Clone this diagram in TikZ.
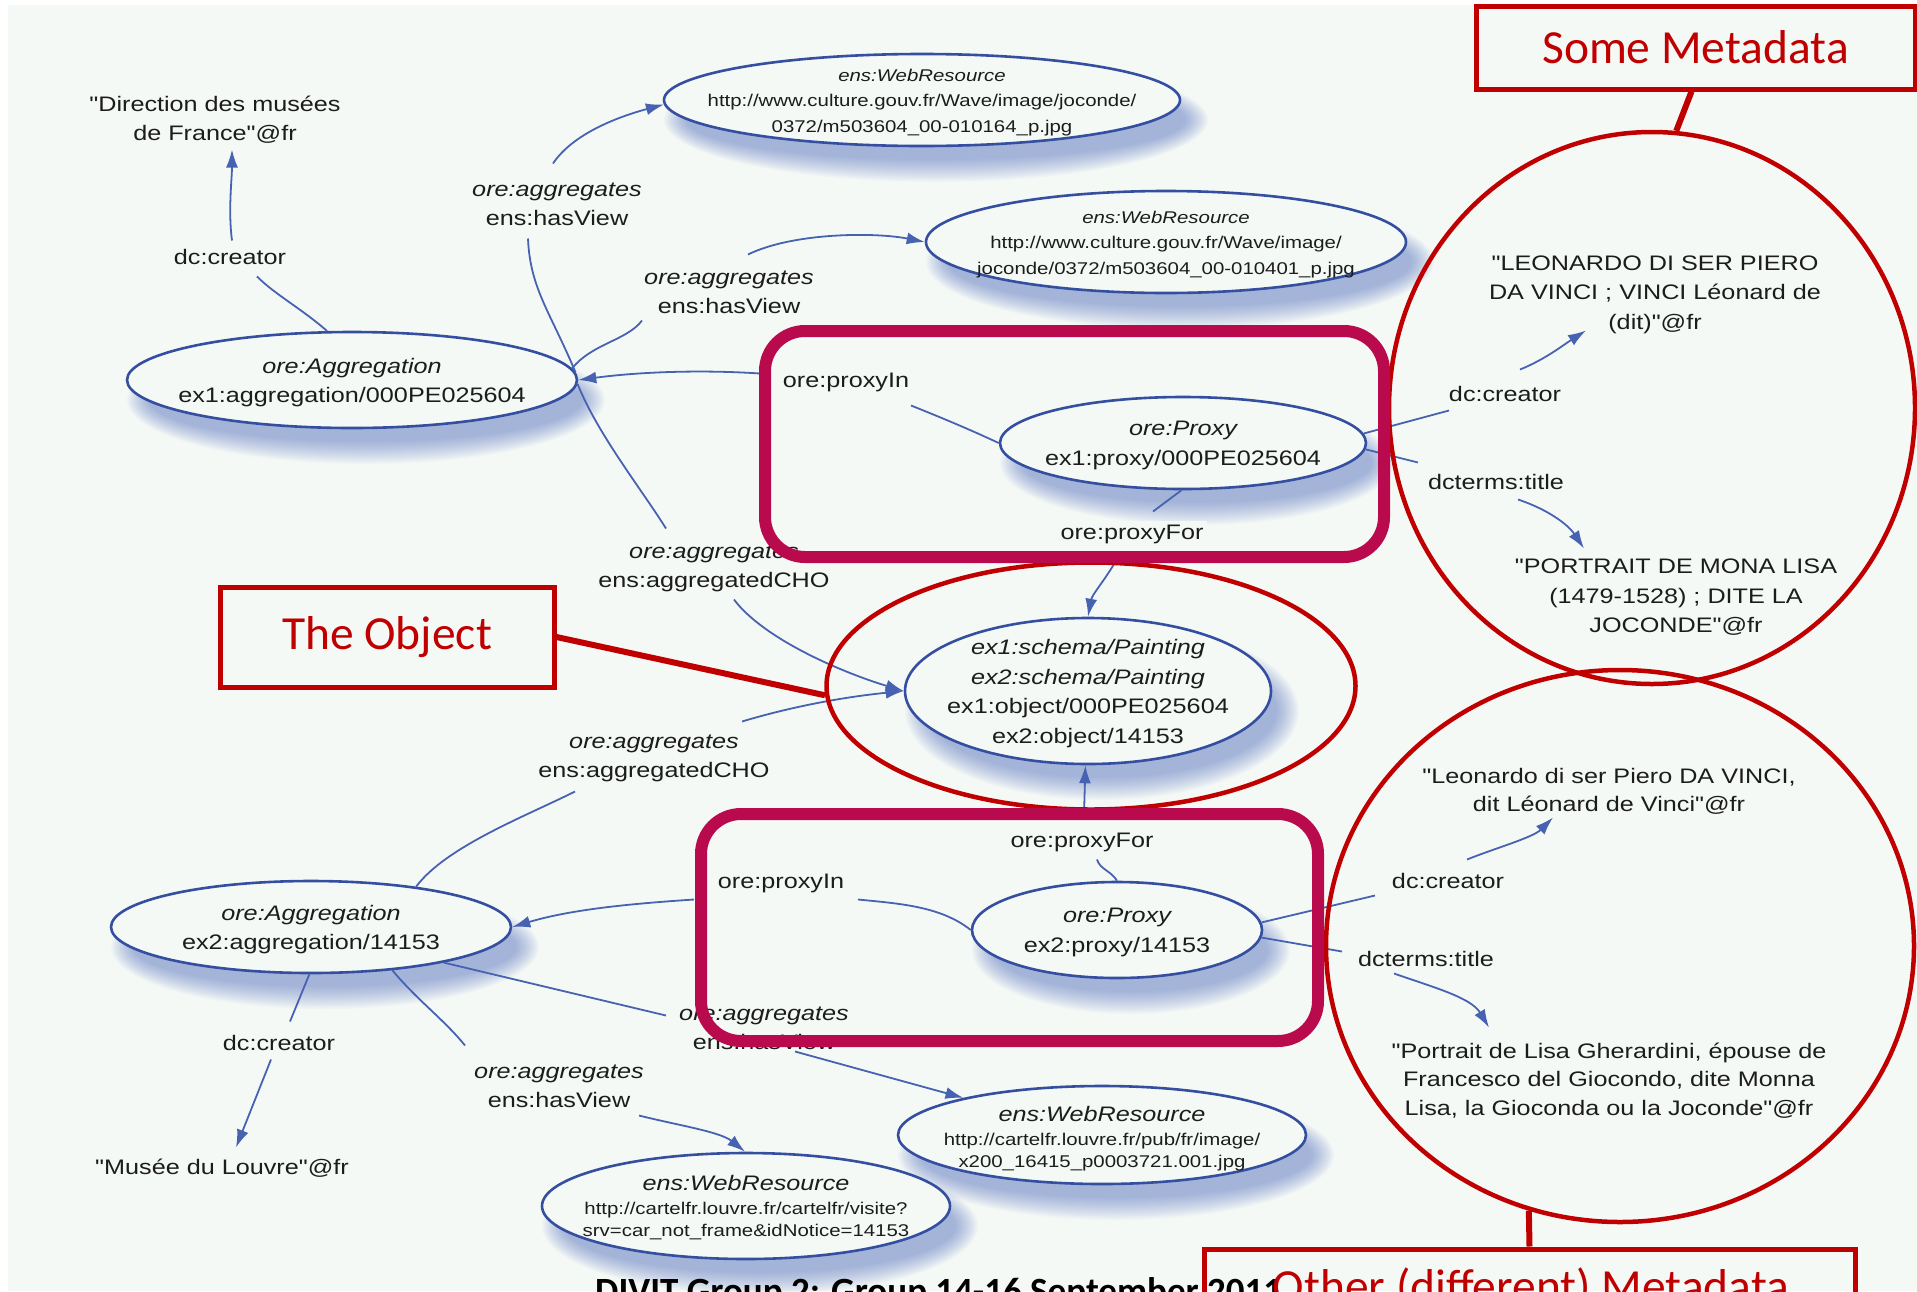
\documentclass[tikz,border=0pt]{standalone}
\usepackage{fontspec}
\setmainfont{Liberation Sans}[FakeStretch=1.2, Ligatures=TeXOff]
\newfontfamily\calibfont{Carlito}
\usetikzlibrary{shapes.geometric,arrows.meta}

\definecolor{bg}{RGB}{245,249,246}
\definecolor{nodeblue}{RGB}{52,78,160}
\definecolor{edgeblue}{RGB}{72,98,178}
\definecolor{shadowblue}{RGB}{70,100,190}
\definecolor{txt}{RGB}{28,28,28}
\definecolor{hired}{RGB}{192,0,0}
\definecolor{mag}{RGB}{184,10,76}

% soft blue shadow under a resource ellipse: centre x, centre y, x radius, y radius
\newcommand{\softshadow}[4]{%
  \foreach \k in {0,...,13}{%
    \fill[shadowblue, opacity=0.04] ({#1+14},{#2+20}) ellipse [x radius={#3+14-1.7*\k}, y radius={#4+16-1.7*\k}];
  }}

\tikzset{
  base/.style={font=\fontsize{21}{29.5}\selectfont, text=txt, yshift=-2.5pt},
  res/.style={ellipse, draw=nodeblue, line width=2.6pt, fill=bg, inner sep=0pt},
  rtext/.style={base, align=center, inner sep=0pt},
  url/.style={rtext, font=\fontsize{17}{25.7}\selectfont},
  urls/.style={rtext, font=\fontsize{17}{22}\selectfont},
  lit/.style={base, align=center, inner sep=0pt},
  lbl/.style={base, align=center, inner sep=0pt},
  edge/.style={draw=edgeblue, line width=1.8pt},
  arr/.style={edge, -{Latex[length=18pt,width=12pt]}},
  redring/.style={ellipse, draw=hired, line width=4.5pt, inner sep=0pt},
  callout/.style={draw=hired, line width=5pt, inner sep=0pt},
  callouttext/.style={font=\calibfont\fontsize{47.5}{52}\selectfont, text=hired, inner sep=0pt},
  pbox/.style={draw=mag, line width=12pt, rounded corners=40pt, inner sep=0pt},
  redline/.style={draw=hired, line width=6pt},
}

\begin{document}
\begin{tikzpicture}[x=1pt, y=-1pt]
\useasboundingbox (0,0) rectangle (1917,1291);
\clip (0,0) rectangle (1917,1291);
\fill[white] (0,0) rectangle (1917,1291);
\fill[bg] (8,5) rectangle (1917,1291);

% shadows
\softshadow{922}{100}{258}{46}
\softshadow{1166}{242}{240}{51}
\softshadow{352}{380}{225}{48}
\softshadow{1183}{443}{183}{46}
\softshadow{1088}{691}{183}{73}
\softshadow{311}{927}{200}{46}
\softshadow{1117}{930}{145}{48}
\softshadow{1102}{1135}{204}{49}
\softshadow{746}{1206}{204}{53}

% resource ellipses
\node[res, minimum width=516pt, minimum height=92pt] (wr1) at (922,100) {};
\node[res, minimum width=480pt, minimum height=102pt] (wr2) at (1166,242) {};
\node[res, minimum width=450pt, minimum height=96pt] (agg1) at (352,380) {};
\node[res, minimum width=366pt, minimum height=92pt] (px1) at (1183,443) {};
\node[res, minimum width=366pt, minimum height=146pt] (obj) at (1088,691) {};
\node[res, minimum width=400pt, minimum height=92pt] (agg2) at (311,927) {};
\node[res, minimum width=290pt, minimum height=96pt] (px2) at (1117,930) {};
\node[res, minimum width=408pt, minimum height=98pt] (wr3) at (1102,1135) {};
\node[res, minimum width=408pt, minimum height=106pt] (wr4) at (746,1206) {};

% resource texts
\node[url] (wr1t) at (wr1) {{\itshape ens:WebResource}\\http://www.culture.gouv.fr/Wave/image/joconde/\\0372/m503604\_00-010164\_p.jpg};
\node[url] (wr2t) at (wr2) {{\itshape ens:WebResource}\\http://www.culture.gouv.fr/Wave/image/\\joconde/0372/m503604\_00-010401\_p.jpg};
\node[rtext] (agg1t) at (agg1) {{\itshape ore:Aggregation}\\ex1:aggregation/000PE025604};
\node[rtext] (px1t) at (px1) {{\itshape ore:Proxy}\\ex1:proxy/000PE025604};
\node[rtext] (objt) at (obj) {{\itshape ex1:schema/Painting}\\{\itshape ex2:schema/Painting}\\ex1:object/000PE025604\\ex2:object/14153};
\node[rtext] (agg2t) at (agg2) {{\itshape ore:Aggregation}\\ex2:aggregation/14153};
\node[rtext] (px2t) at (px2) {{\itshape ore:Proxy}\\ex2:proxy/14153};
\node[urls] (wr3t) at (1102,1136) {{\fontsize{21}{24}\selectfont\itshape ens:WebResource}\\[2pt]http://cartelfr.louvre.fr/pub/fr/image/\\x200\_16415\_p0003721.001.jpg};
\node[urls] (wr4t) at (746,1205) {{\fontsize{21}{24}\selectfont\itshape ens:WebResource}\\[2pt]http://cartelfr.louvre.fr/cartelfr/visite?\\srv=car\_not\_frame\&idNotice=14153};

% literal values
\node[lit] (dir) at (215,117) {"Direction des musées\\de France"@fr};
\node[lit] (lv) at (222,1166) {"Musée du Louvre"@fr};
\node[lit] (leo1) at (1655,292) {"LEONARDO DI SER PIERO\\DA VINCI ; VINCI Léonard de\\(dit)"@fr};
\node[lit] (por1) at (1676,595) {"PORTRAIT DE MONA LISA\\(1479-1528) ; DITE LA\\JOCONDE"@fr};
\node[lit, font=\fontsize{21}{28}\selectfont] (leo2) at (1609,789) {"Leonardo di ser Piero DA VINCI,\\dit Léonard de Vinci"@fr};
\node[lit, font=\fontsize{21}{28.7}\selectfont] (por2) at (1609,1078) {"Portrait de Lisa Gherardini, épouse de\\Francesco del Giocondo, dite Monna\\Lisa, la Gioconda ou la Joconde"@fr};

% property labels
\node[lbl] (lc1) at (230,254) {dc:creator};
\node[lbl] (hv1) at (557,202) {{\itshape ore:aggregates}\\ens:hasView};
\node[lbl] (hv2) at (729,290) {{\itshape ore:aggregates}\\ens:hasView};
\node[lbl] (pin1) at (846,380) {ore:proxyIn};
\node[lbl, fill=bg, inner sep=4pt] (pfor1) at (1132,532) {ore:proxyFor};
\node[lbl] (cho1) at (714,566) {{\itshape ore:aggregates}\\ens:aggregatedCHO};
\node[lbl] (c2) at (1505,391) {dc:creator};
\node[lbl] (t1) at (1496,479) {dcterms:title};
\node[lbl] (cho2) at (654,756) {{\itshape ore:aggregates}\\ens:aggregatedCHO};
\node[lbl] (pfor2) at (1082,840) {ore:proxyFor};
\node[lbl] (pin2) at (781,881) {ore:proxyIn};
\node[lbl] (c3) at (1448,878) {dc:creator};
\node[lbl] (t2) at (1426,956) {dcterms:title};
\node[lbl] (hv3) at (764,1026) {{\itshape ore:aggregates}\\ens:hasView};
\node[lbl] (c4) at (279,1040) {dc:creator};
\node[lbl] (hv4) at (559,1084) {{\itshape ore:aggregates}\\ens:hasView};

% edges of aggregation 1
\draw[edge] (agg1.117) .. controls +(-25,-22) and +(18,18) .. ([shift={(27,20)}]lc1.center);
\draw[arr] ([shift={(2,-16)}]lc1.center) .. controls +(-4,-30) and +(0,30) .. ([shift={(17,30)}]dir.center);
\draw[edge] (agg1.2) .. controls +(-25,-60) and +(2,50) .. ([shift={(-29,34)}]hv1.center);
\draw[arr] ([shift={(-4,-41)}]hv1.center) .. controls +(20,-30) and +(-45,12) .. (wr1.181);
\draw[edge] (agg1.-1) .. controls +(20,50) and +(-25,-40) .. ([shift={(-48,-40)}]cho1.center);
\draw[arr] ([shift={(20,31)}]cho1.center) .. controls +(30,40) and +(-60,-18) .. (obj.180);
\draw[edge] (agg1.3) .. controls +(20,-25) and +(-15,20) .. ([shift={(-87,28)}]hv2.center);
\draw[arr] ([shift={(19,-38)}]hv2.center) .. controls +(45,-22) and +(-50,-10) .. (wr2.180);

% edges of proxy 1
\draw[edge] (px1.west) .. controls +(-30,-14) and +(30,12) .. ([shift={(65,23)}]pin1.center);
\draw[arr] ([shift={(-86,-9)}]pin1.center) .. controls +(-60,-4) and +(60,-8) .. (agg1.east);
\draw[edge] (px1.268) -- ([shift={(21,-23)}]pfor1.center);
\draw[arr] ([shift={(-17,28)}]pfor1.center) .. controls +(-12,20) and +(4,-22) .. (obj.north);
\draw[edge] (px1.3) -- ([shift={(-56,17)}]c2.center);
\draw[arr] ([shift={(15,-24)}]c2.center) .. controls +(25,-10) and +(-22,14) .. ([shift={(-69,36)}]leo1.center);
\draw[edge] (px1.-2) -- ([shift={(-78,-19)}]t1.center);
\draw[arr] ([shift={(22,18)}]t1.center) .. controls +(30,10) and +(-16,-24) .. ([shift={(-92,-49)}]por1.center);

% edges of aggregation 2
\draw[edge] (agg2.21) .. controls +(30,-40) and +(-50,25) .. ([shift={(-79,33)}]cho2.center);
\draw[arr] ([shift={(88,-37)}]cho2.center) .. controls +(50,-15) and +(-60,6) .. (obj.180);
\draw[edge] (agg2.-15) -- ([shift={(-98,-13)}]hv3.center);
\draw[arr] ([shift={(31,23)}]hv3.center) -- (wr3.165);
\draw[edge] (agg2.-28) .. controls +(25,30) and +(-20,-25) .. ([shift={(-94,-41)}]hv4.center);
\draw[arr] ([shift={(80,29)}]hv4.center) .. controls +(40,10) and +(-25,-20) .. (wr4.91);
\draw[edge] (agg2.-92) -- ([shift={(11,-21)}]c4.center);
\draw[arr] ([shift={(-8,17)}]c4.center) -- ([shift={(14,-21)}]lv.center);

% edges of proxy 2
\draw[edge] (px2.west) .. controls +(-30,-24) and +(40,4) .. ([shift={(77,16)}]pin2.center);
\draw[arr] ([shift={(-87,16)}]pin2.center) .. controls +(-60,4) and +(60,-18) .. (agg2.east);
\draw[edge] (px2.north) .. controls +(-6,-10) and +(3,10) .. ([shift={(15,17)}]pfor2.center);
\draw[arr] ([shift={(2,-28)}]pfor2.center) -- (obj.268);
\draw[edge] (px2.3) -- ([shift={(-73,15)}]c3.center);
\draw[arr] ([shift={(19,-21)}]c3.center) .. controls +(30,-12) and +(-20,20) .. ([shift={(-56,26)}]leo2.center);
\draw[edge] (px2.-3) -- ([shift={(-84,-7)}]t2.center);
\draw[arr] ([shift={(-32,15)}]t2.center) .. controls +(40,14) and +(-18,-30) .. ([shift={(-120,-53)}]por2.center);

% footer line of the slide, cut by the page edge
\node[anchor=base west, inner sep=0pt, font=\calibfont\bfseries\fontsize{37}{42}\selectfont, text=black] (foot) at (595,1303) {DIVIT Group 2: Group 14-16 September 2011};

% red rings
\node[redring, minimum width=529pt, minimum height=247pt] (objring) at (1091,686) {};
\node[redring, minimum width=526pt, minimum height=552pt] (meta1) at (1652,408) {};
\node[redring, minimum width=588pt, minimum height=552pt] (meta2) at (1620,946) {};

% proxy highlight boxes
\node[pbox, minimum width=619pt, minimum height=226pt] (prox1box) at (1074.5,444) {};
\node[pbox, minimum width=617pt, minimum height=227pt] (prox2box) at (1009.5,927.5) {};

% callouts
\node[callout, minimum width=439pt, minimum height=83pt] (smbox) at (1695.5,47.5) {};
\node[callouttext] (smtext) at (smbox) {Some Metadata};
\node[callout, minimum width=334pt, minimum height=100pt] (objbox) at (387,637) {};
\node[callouttext] (objtext) at (objbox) {The Object};
\node[callout, minimum width=651pt, minimum height=100pt] (ombox) at (1529.5,1299) {};
\node[callouttext, anchor=base] (omtext) at (1531,1302) {Other (different) Metadata};

\draw[redline] ([xshift=-4pt]smbox.south) -- (meta1.85);
\draw[redline] (objbox.east) -- (objring.182);
\draw[redline] (meta2.251) -- (ombox.north);
\end{tikzpicture}
\end{document}
